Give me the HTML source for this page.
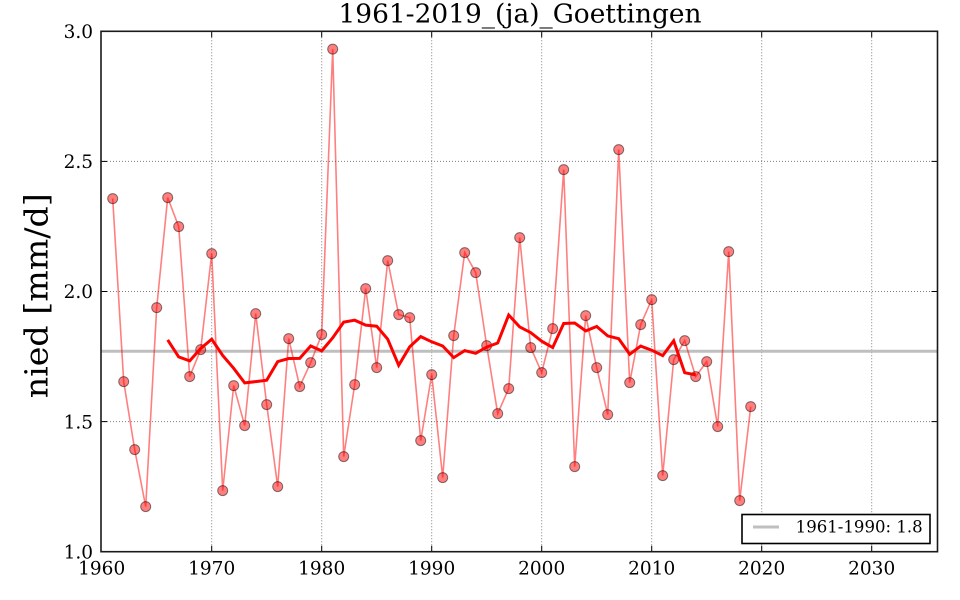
<!DOCTYPE html>
<html><head><meta charset="utf-8"><style>
html,body{margin:0;padding:0;background:#fff;}
svg{display:block;}
text{font-family:"DejaVu Serif","Liberation Serif",serif;fill:#000;}
</style></head><body>
<svg width="960" height="600" viewBox="0 0 960 600" xmlns="http://www.w3.org/2000/svg">
<rect x="0" y="0" width="960" height="600" fill="#fff"/>
<!-- grid -->
<g stroke="#000" stroke-opacity="0.5" stroke-width="1" stroke-dasharray="1 2" fill="none">
<line x1="211.7" y1="31.3" x2="211.7" y2="551.7"/>
<line x1="321.7" y1="31.3" x2="321.7" y2="551.7"/>
<line x1="431.7" y1="31.3" x2="431.7" y2="551.7"/>
<line x1="541.7" y1="31.3" x2="541.7" y2="551.7"/>
<line x1="651.7" y1="31.3" x2="651.7" y2="551.7"/>
<line x1="761.7" y1="31.3" x2="761.7" y2="551.7"/>
<line x1="871.7" y1="31.3" x2="871.7" y2="551.7"/>
<line x1="101" y1="421.6" x2="937.5" y2="421.6"/>
<line x1="101" y1="291.5" x2="937.5" y2="291.5"/>
<line x1="101" y1="161.4" x2="937.5" y2="161.4"/>
</g>
<!-- reference line -->
<line x1="101" y1="351.3" x2="937.5" y2="351.3" stroke="#bfbfbf" stroke-width="3"/>
<g transform="translate(0,0.6)">
<!-- thin data line -->
<polyline fill="none" stroke="#ff0000" stroke-opacity="0.5" stroke-width="1.6" points="112.7,198 123.7,381 134.7,449 145.7,506 156.7,307 167.7,197 178.7,226 189.7,376 200.7,349 211.7,253 222.7,490 233.7,385 244.7,425 255.7,313 266.7,404 277.7,486 288.7,338 299.7,386 310.7,362 321.7,334 332.7,48.5 343.7,456 354.7,384 365.7,288 376.7,367 387.7,260 398.7,314 409.7,317 420.7,440 431.7,374 442.7,477 453.7,335 464.7,252 475.7,272 486.7,345 497.7,413 508.7,388 519.7,237 530.7,347 541.7,372 552.7,328 563.7,169 574.7,466 585.7,315 596.7,367 607.7,414 618.7,149 629.7,382 640.7,324 651.7,299 662.7,475 673.7,359 684.7,340 695.7,376 706.7,361 717.7,426 728.7,251 739.7,500 750.7,406"/>
<!-- markers -->
<g fill="#ff0000" fill-opacity="0.5" stroke="#000" stroke-opacity="0.5" stroke-width="1">
<circle cx="112.7" cy="198" r="5"/><circle cx="123.7" cy="381" r="5"/><circle cx="134.7" cy="449" r="5"/><circle cx="145.7" cy="506" r="5"/><circle cx="156.7" cy="307" r="5"/><circle cx="167.7" cy="197" r="5"/><circle cx="178.7" cy="226" r="5"/><circle cx="189.7" cy="376" r="5"/><circle cx="200.7" cy="349" r="5"/><circle cx="211.7" cy="253" r="5"/><circle cx="222.7" cy="490" r="5"/><circle cx="233.7" cy="385" r="5"/><circle cx="244.7" cy="425" r="5"/><circle cx="255.7" cy="313" r="5"/><circle cx="266.7" cy="404" r="5"/><circle cx="277.7" cy="486" r="5"/><circle cx="288.7" cy="338" r="5"/><circle cx="299.7" cy="386" r="5"/><circle cx="310.7" cy="362" r="5"/><circle cx="321.7" cy="334" r="5"/><circle cx="332.7" cy="48.5" r="5"/><circle cx="343.7" cy="456" r="5"/><circle cx="354.7" cy="384" r="5"/><circle cx="365.7" cy="288" r="5"/><circle cx="376.7" cy="367" r="5"/><circle cx="387.7" cy="260" r="5"/><circle cx="398.7" cy="314" r="5"/><circle cx="409.7" cy="317" r="5"/><circle cx="420.7" cy="440" r="5"/><circle cx="431.7" cy="374" r="5"/><circle cx="442.7" cy="477" r="5"/><circle cx="453.7" cy="335" r="5"/><circle cx="464.7" cy="252" r="5"/><circle cx="475.7" cy="272" r="5"/><circle cx="486.7" cy="345" r="5"/><circle cx="497.7" cy="413" r="5"/><circle cx="508.7" cy="388" r="5"/><circle cx="519.7" cy="237" r="5"/><circle cx="530.7" cy="347" r="5"/><circle cx="541.7" cy="372" r="5"/><circle cx="552.7" cy="328" r="5"/><circle cx="563.7" cy="169" r="5"/><circle cx="574.7" cy="466" r="5"/><circle cx="585.7" cy="315" r="5"/><circle cx="596.7" cy="367" r="5"/><circle cx="607.7" cy="414" r="5"/><circle cx="618.7" cy="149" r="5"/><circle cx="629.7" cy="382" r="5"/><circle cx="640.7" cy="324" r="5"/><circle cx="651.7" cy="299" r="5"/><circle cx="662.7" cy="475" r="5"/><circle cx="673.7" cy="359" r="5"/><circle cx="684.7" cy="340" r="5"/><circle cx="695.7" cy="376" r="5"/><circle cx="706.7" cy="361" r="5"/><circle cx="717.7" cy="426" r="5"/><circle cx="728.7" cy="251" r="5"/><circle cx="739.7" cy="500" r="5"/><circle cx="750.7" cy="406" r="5"/>
</g>
<!-- moving average -->
<polyline fill="none" stroke="#ff0000" stroke-width="3" stroke-linejoin="miter" points="167.7,339.3 178.7,356.3 189.7,360.3 200.7,347.9 211.7,338.6 222.7,354.9 233.7,367.7 244.7,382.3 255.7,381.0 266.7,379.6 277.7,361.0 288.7,357.9 299.7,357.8 310.7,345.4 321.7,350.3 332.7,337.2 343.7,321.5 354.7,319.6 365.7,324.5 376.7,325.6 387.7,338.6 398.7,364.7 409.7,346.2 420.7,336.0 431.7,341.2 442.7,345.4 453.7,357.0 464.7,350.0 475.7,352.7 486.7,346.5 497.7,342.4 508.7,314.4 519.7,326.3 530.7,332.0 541.7,340.6 552.7,346.9 563.7,322.9 574.7,322.4 585.7,330.3 596.7,325.9 607.7,335.3 618.7,338.1 629.7,353.6 640.7,345.5 651.7,349.6 662.7,355.0 673.7,340.2 684.7,372.1 695.7,374.3"/>
</g>
<!-- ticks -->
<g stroke="#000" stroke-width="1">
<line x1="211.7" y1="551.7" x2="211.7" y2="545.7"/><line x1="321.7" y1="551.7" x2="321.7" y2="545.7"/><line x1="431.7" y1="551.7" x2="431.7" y2="545.7"/><line x1="541.7" y1="551.7" x2="541.7" y2="545.7"/><line x1="651.7" y1="551.7" x2="651.7" y2="545.7"/><line x1="761.7" y1="551.7" x2="761.7" y2="545.7"/><line x1="871.7" y1="551.7" x2="871.7" y2="545.7"/>
<line x1="211.7" y1="31.3" x2="211.7" y2="37.3"/><line x1="321.7" y1="31.3" x2="321.7" y2="37.3"/><line x1="431.7" y1="31.3" x2="431.7" y2="37.3"/><line x1="541.7" y1="31.3" x2="541.7" y2="37.3"/><line x1="651.7" y1="31.3" x2="651.7" y2="37.3"/><line x1="761.7" y1="31.3" x2="761.7" y2="37.3"/><line x1="871.7" y1="31.3" x2="871.7" y2="37.3"/>
<line x1="101" y1="421.6" x2="107" y2="421.6"/><line x1="101" y1="291.5" x2="107" y2="291.5"/><line x1="101" y1="161.4" x2="107" y2="161.4"/>
<line x1="937.5" y1="421.6" x2="931.5" y2="421.6"/><line x1="937.5" y1="291.5" x2="931.5" y2="291.5"/><line x1="937.5" y1="161.4" x2="931.5" y2="161.4"/>
</g>
<!-- spines -->
<rect x="101" y="31.3" width="836.5" height="520.4" fill="none" stroke="#1a1a1a" stroke-width="1.6"/>
<!-- legend -->
<rect x="742" y="514.5" width="188" height="29" fill="#fff" stroke="#000" stroke-width="1.6"/>
<line x1="753" y1="527" x2="779" y2="527" stroke="#bfbfbf" stroke-width="3"/>
<text x="795.7" y="532.7" font-size="16.5" textLength="127" lengthAdjust="spacingAndGlyphs">1961-1990: 1.8</text>
<!-- y tick labels -->
<g font-size="18.5" text-anchor="end">
<text x="93" y="558.4">1.0</text>
<text x="93" y="428.3">1.5</text>
<text x="93" y="298.2">2.0</text>
<text x="93" y="168.1">2.5</text>
<text x="93" y="38">3.0</text>
</g>
<!-- x tick labels -->
<g font-size="18.5" text-anchor="middle">
<text x="101.7" y="574.3">1960</text>
<text x="211.7" y="574.3">1970</text>
<text x="321.7" y="574.3">1980</text>
<text x="431.7" y="574.3">1990</text>
<text x="541.7" y="574.3">2000</text>
<text x="651.7" y="574.3">2010</text>
<text x="761.7" y="574.3">2020</text>
<text x="871.7" y="574.3">2030</text>
</g>
<!-- title -->
<text x="520" y="22.7" font-size="26" text-anchor="middle" textLength="363" lengthAdjust="spacingAndGlyphs">1961-2019_(ja)_Goettingen</text>
<!-- y label -->
<text transform="translate(47.3,295.8) rotate(-90)" x="0" y="0" font-size="32" text-anchor="middle" textLength="205" lengthAdjust="spacingAndGlyphs">nied [mm/d]</text>
</svg>
</body></html>
